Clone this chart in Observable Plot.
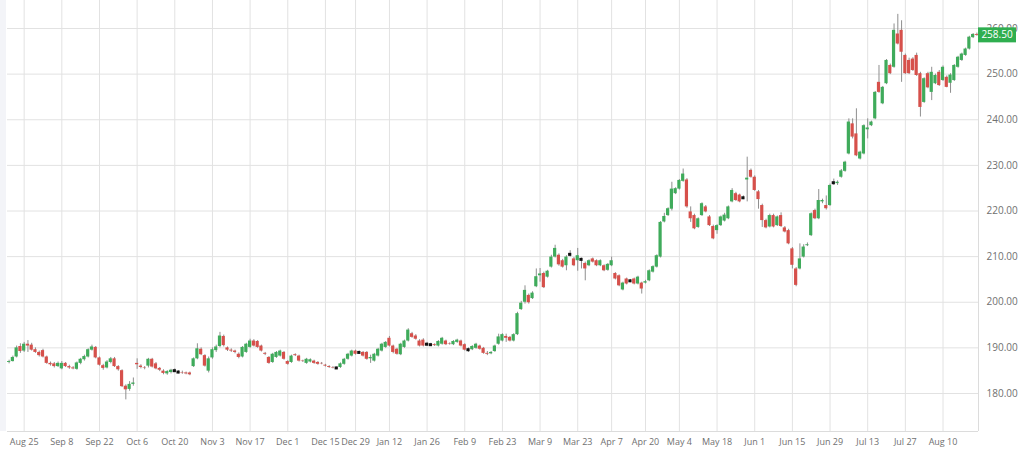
<!DOCTYPE html>
<html><head><meta charset="utf-8">
<script src="https://cdn.jsdelivr.net/npm/d3@7"></script>
<script src="https://cdn.jsdelivr.net/npm/@observablehq/plot@0.6"></script>
<style>
body{margin:0;background:#fff;overflow:hidden;}
#wrap{position:relative;width:1024px;height:453px;}
#strip{position:absolute;left:0;top:0;width:6px;height:431px;background:#f3f4f8;}
</style>
</head><body><div id="wrap"><div id="strip"></div><div id="chart"></div></div>
<script>
// trading calendar (Euronext-style)
const firstDay = "2025-08-19";
const lastDay = "2026-08-21";
const holidays = ["2025-12-25","2025-12-26","2026-01-01","2026-04-03","2026-04-06","2026-05-01"];

// x tick labels (first session of every other week)
const tickDates = ["2025-08-25","2025-09-08","2025-09-22","2025-10-06","2025-10-20","2025-11-03","2025-11-17","2025-12-01","2025-12-15","2025-12-29","2026-01-12","2026-01-26","2026-02-09","2026-02-23","2026-03-09","2026-03-23","2026-04-07","2026-04-20","2026-05-04","2026-05-18","2026-06-01","2026-06-15","2026-06-29","2026-07-13","2026-07-27","2026-08-10"];

// y ticks
const yTicks = [180,190,200,210,220,230,240,250,260];

const open = [
186.8,187.0,188.0,190.3,189.3,190.8,190.6,189.6,189.0,189.4,
188.0,186.6,186.5,185.9,185.4,186.6,185.9,185.6,185.3,186.6,
187.4,188.0,189.5,190.1,187.8,186.1,185.6,186.8,187.6,185.9,
185.0,181.6,180.9,182.0,186.6,186.0,185.6,186.0,187.5,186.5,
185.5,184.9,184.3,184.6,185.0,184.7,184.6,184.5,184.5,185.9,
187.6,189.7,188.3,184.9,187.8,189.4,190.3,192.5,190.0,189.5,
189.3,188.6,188.0,189.0,190.1,191.5,191.4,190.4,188.8,187.9,
186.8,187.9,188.2,189.0,187.0,186.8,188.5,188.2,187.1,186.6,
186.9,187.1,186.8,186.6,186.2,185.9,185.7,185.6,185.7,186.4,
187.5,188.2,189.3,189.0,189.0,189.0,187.6,187.1,188.2,189.3,
190.1,192.1,190.4,189.7,188.5,190.1,191.5,193.1,192.6,191.5,
191.7,190.8,190.7,190.7,190.4,190.8,191.5,190.9,190.7,191.2,
191.5,190.7,189.6,189.6,189.9,190.4,189.9,188.8,188.7,189.2,
190.8,191.5,192.5,192.3,191.5,192.9,198.4,200.0,201.5,200.8,
203.4,205.8,206.3,205.5,207.7,209.9,210.3,209.1,208.0,210.5,
209.5,209.1,209.4,208.5,208.0,209.5,209.1,208.0,208.0,207.0,
208.0,206.3,205.8,202.7,205.1,204.7,205.1,204.0,204.2,204.2,
204.7,206.6,207.7,209.9,217.6,219.0,220.4,223.8,224.8,226.5,
226.8,219.8,219.0,216.4,219.0,220.9,218.7,216.6,215.7,216.8,
217.8,218.3,222.0,223.8,223.5,222.9,226.8,228.9,227.4,224.2,
221.2,217.9,216.5,219.0,216.8,219.0,216.3,215.7,211.7,207.3,
207.3,209.9,212.4,214.6,220.1,218.3,222.0,221.2,221.2,226.2,
226.0,227.4,228.7,232.5,239.1,236.9,231.4,232.5,237.8,238.7,
240.2,248.2,243.5,247.9,251.9,251.5,258.8,259.6,254.1,253.0,
253.3,254.1,250.1,243.8,250.1,246.0,247.9,250.4,248.6,249.3,
248.0,248.6,251.5,253.0,254.1,255.5,258.0,258.7];

const high = [
187.3,188.2,190.4,190.9,191.2,191.6,191.0,190.0,189.3,189.7,
188.2,186.9,186.8,186.9,187.0,186.8,186.2,185.9,186.9,187.7,
188.4,189.8,190.6,190.3,188.0,186.4,187.2,187.9,187.9,186.1,
185.2,181.9,182.6,183.4,187.6,186.3,185.9,187.7,187.7,186.8,
185.7,185.2,185.0,185.3,185.4,185.0,184.9,184.7,184.7,187.8,
190.9,190.0,188.5,188.0,190.0,190.6,193.4,192.8,190.2,189.8,
189.5,188.9,190.3,191.0,191.9,191.8,191.6,190.6,189.0,188.1,
188.8,189.2,189.5,189.2,187.2,188.4,188.7,188.4,187.3,187.7,
187.6,187.3,187.0,186.8,186.4,186.1,185.9,185.8,186.7,187.7,
188.8,189.5,189.5,189.3,189.2,189.2,188.4,188.8,189.9,191.0,
191.4,192.5,190.6,189.9,191.0,191.7,194.2,193.4,192.9,191.8,
192.0,191.2,191.0,190.9,191.6,192.3,191.7,191.1,191.6,191.9,
191.7,190.9,190.0,190.5,191.0,190.6,190.1,189.2,189.2,190.6,
193.0,193.1,193.0,192.5,193.1,197.8,200.2,203.6,201.8,202.3,
207.3,207.4,206.6,207.0,210.3,212.5,210.6,209.4,210.2,211.3,
209.8,211.8,209.7,208.8,209.3,209.7,209.3,209.3,208.2,208.5,
209.9,206.5,206.0,204.4,205.3,205.0,205.3,205.7,204.4,204.8,
207.1,208.0,210.4,217.7,219.5,220.7,226.3,225.1,226.9,229.2,
227.1,220.9,219.3,218.5,221.8,221.2,219.0,216.9,217.0,218.9,
219.5,221.1,224.9,224.1,223.7,223.3,231.8,229.2,227.7,224.5,
221.5,218.2,219.3,219.3,218.9,219.6,216.6,216.0,212.0,207.6,
212.8,212.6,213.0,219.6,220.4,224.7,222.6,223.3,225.9,227.0,
226.6,229.1,230.9,240.2,240.2,242.4,233.1,238.9,240.2,239.7,
246.2,251.9,247.3,253.2,252.2,261.0,263.1,261.7,254.4,253.5,
253.6,254.6,250.4,249.2,250.4,251.5,250.0,250.8,251.8,249.6,
250.1,252.1,253.9,254.6,255.7,258.3,258.9,259.0];

const low = [
186.5,186.9,187.8,188.8,189.0,189.0,189.3,188.8,188.0,187.8,
186.4,186.0,185.6,185.7,185.2,185.7,185.3,185.2,185.1,186.3,
187.1,187.8,189.3,187.6,186.0,185.1,185.4,186.5,185.7,184.9,
181.3,178.6,180.5,181.6,185.3,185.4,185.2,185.6,185.6,185.2,
184.8,184.1,184.0,184.3,184.6,184.3,184.2,184.1,183.9,185.7,
187.4,188.3,185.8,184.5,187.5,189.0,190.0,190.2,189.2,189.0,
188.7,187.6,187.8,188.8,189.9,190.2,189.9,189.1,188.3,186.4,
186.6,187.7,188.0,187.3,186.2,186.6,188.1,186.9,186.8,186.4,
186.7,186.4,186.2,186.3,185.8,185.5,185.4,185.4,185.5,186.2,
187.3,188.0,188.4,188.7,188.0,187.3,186.6,186.9,188.0,189.1,
189.9,190.2,188.7,188.4,188.3,189.9,191.3,192.1,191.7,190.2,
190.2,190.4,190.3,190.3,190.2,190.6,190.5,190.6,190.5,191.0,
190.2,189.3,189.0,189.4,189.7,189.5,188.6,188.3,188.5,189.0,
190.6,191.3,191.2,191.3,191.3,192.7,198.2,199.6,199.6,200.6,
203.2,204.4,203.0,205.3,207.5,209.7,207.9,207.5,206.9,209.9,
207.8,206.8,207.3,204.7,207.8,208.6,207.8,207.8,206.7,206.8,
207.8,204.9,203.4,202.5,203.8,204.3,203.8,203.8,201.8,204.0,
204.5,206.4,207.5,209.7,217.4,218.8,220.0,223.6,224.6,226.3,
220.6,217.5,215.9,216.2,218.8,219.6,216.6,213.7,214.9,216.6,
217.6,218.1,221.8,222.1,221.8,222.5,222.0,227.2,224.3,220.4,
216.4,216.1,216.3,216.3,216.6,216.4,215.2,212.6,207.3,203.4,
207.1,209.7,212.2,214.4,218.1,218.1,221.6,220.2,221.0,225.6,
225.6,227.2,228.5,232.3,235.8,231.9,231.2,232.3,235.8,238.5,
240.0,245.8,243.3,247.7,249.9,251.3,256.4,248.2,249.9,249.9,
250.6,249.5,240.6,243.6,246.8,244.2,247.7,247.3,248.4,247.0,
245.8,248.4,251.3,252.8,253.9,255.3,257.8,258.3];

const close = [
187.0,187.9,190.0,189.2,190.8,190.4,189.5,189.0,188.3,188.0,
186.6,186.3,185.9,186.6,186.6,185.9,185.6,185.4,186.7,187.5,
188.1,189.6,190.2,187.8,186.2,185.5,186.9,187.6,185.9,185.2,
181.5,180.8,182.0,182.3,186.3,185.7,185.5,187.5,185.8,185.4,
185.1,184.4,184.8,185.1,185.0,184.7,184.5,184.3,184.1,187.6,
189.8,188.5,186.0,187.6,189.6,190.2,192.6,190.5,189.5,189.3,
189.0,187.9,190.1,190.8,191.5,190.4,190.1,189.3,188.6,186.6,
188.6,189.0,189.3,187.5,186.4,188.2,188.3,187.1,187.0,187.5,
187.4,186.6,186.4,186.5,186.0,185.7,185.6,185.6,186.5,187.5,
188.6,189.3,188.6,189.0,188.2,187.5,187.9,188.6,189.7,190.8,
191.2,190.4,189.0,188.6,190.8,191.5,193.9,192.3,191.9,190.4,
190.4,190.8,190.7,190.5,191.4,192.1,190.7,190.8,191.4,191.7,
190.4,189.5,189.6,190.3,190.8,189.7,188.8,188.6,189.0,190.4,
192.4,192.9,192.1,191.5,192.9,197.5,199.8,202.6,199.9,202.0,
205.6,206.2,203.2,206.8,209.9,211.8,208.2,207.7,209.9,210.5,
208.0,210.2,209.4,207.3,209.1,208.8,208.0,209.1,206.9,208.3,
209.1,205.1,203.6,204.2,204.0,204.7,204.0,205.5,202.9,204.5,
206.9,207.8,210.2,217.5,218.8,220.5,224.8,224.9,226.7,228.1,
220.9,218.3,216.1,218.3,221.6,219.8,216.8,213.9,216.8,218.7,
219.1,220.9,224.5,222.3,222.0,222.9,227.2,227.4,224.5,222.5,
217.9,216.3,219.0,216.5,218.7,216.6,215.4,212.8,208.1,203.7,
209.5,212.1,212.6,219.4,218.3,222.3,222.3,220.5,225.6,226.2,
226.3,228.8,230.7,239.5,236.2,232.1,232.9,238.7,238.2,239.5,
246.0,246.0,247.1,253.0,250.1,259.6,256.6,254.8,250.1,250.1,
250.8,249.7,242.7,249.0,247.0,250.4,249.7,247.5,251.5,247.1,
249.8,251.9,253.7,254.4,255.5,258.1,258.7,258.5];

const lastPrice = 258.5;

const keyFmt = d3.utcFormat("%Y-%m-%d");
const labelFmt = d3.utcFormat("%b %-d");
const days = d3.utcDay.range(new Date(firstDay + "T00:00Z"), d3.utcDay.offset(new Date(lastDay + "T00:00Z"), 1))
  .filter(d => d.getUTCDay() % 6 !== 0 && !holidays.includes(keyFmt(d)))
  .map(keyFmt);

const data = days.map((date, i) => ({date, open: open[i], high: high[i], low: low[i], close: close[i]}))
  .filter(d => d.open !== undefined);

const GREEN = "#3fab5b", RED = "#d6504b", GRID = "#e2e2e2";

const chart = Plot.plot({
  width: 1024,
  height: 453,
  marginTop: 0,
  marginLeft: 7,
  marginRight: 46,
  marginBottom: 22,
  style: {fontFamily: "'Open Sans', sans-serif", fontSize: "10px", color: "#707070", background: "transparent"},
  x: {type: "band", domain: data.map(d => d.date), paddingInner: 0.15, paddingOuter: 0, axis: null, label: null},
  y: {domain: [171.67, 266.14], axis: null, label: null},
  marks: [
    Plot.ruleY(yTicks, {stroke: GRID, strokeWidth: 1}),
    Plot.ruleX(tickDates, {x: d => d, stroke: GRID, strokeWidth: 1}),
    Plot.ruleX(data, {x: "date", y1: "low", y2: "high", stroke: "#8e8e8e", strokeWidth: 1}),
    Plot.barY(data.filter(d => d.close > d.open), {x: "date", y1: "open", y2: "close", fill: GREEN}),
    Plot.barY(data.filter(d => d.close < d.open), {x: "date", y1: "open", y2: "close", fill: RED}),
    Plot.tickY(data.filter(d => d.close === d.open), {x: "date", y: "close", stroke: "#111", strokeWidth: 3}),
    Plot.axisY({anchor: "right", ticks: yTicks, tickFormat: d3.format(".2f"), tickSize: 0, tickPadding: 8, label: null}),
    Plot.axisX({ticks: tickDates, tickFormat: s => labelFmt(new Date(s + "T00:00Z")), tickSize: 0, tickPadding: 7, fontSize: 9, label: null})
  ]
});

// frame lines (bottom and right) and last price badge, placed with the chart's scales
const svg = d3.select(chart);
const xr = chart.scale("x").range, yr = chart.scale("y").range;
const x1 = Math.max(...xr), yb = Math.max(...yr);
svg.append("line").attr("x1", Math.min(...xr)).attr("x2", x1).attr("y1", yb + 0.5).attr("y2", yb + 0.5).attr("stroke", "#dcdcdc");
svg.append("line").attr("x1", x1 + 0.5).attr("x2", x1 + 0.5).attr("y1", 0).attr("y2", yb).attr("stroke", "#dcdcdc");
const yl = chart.scale("y").apply(lastPrice);
const g = svg.append("g");
g.append("rect").attr("x", x1).attr("y", yl - 7.5).attr("width", 38).attr("height", 15).attr("fill", "#2fae4f");
g.append("text").attr("x", x1 + 19).attr("y", yl).attr("dy", "0.35em").attr("text-anchor", "middle")
  .attr("fill", "#fff").attr("font-size", "10px").attr("font-family", "'Open Sans', sans-serif").text(d3.format(".2f")(lastPrice));

document.getElementById("chart").appendChild(chart);
</script>
</body></html>
